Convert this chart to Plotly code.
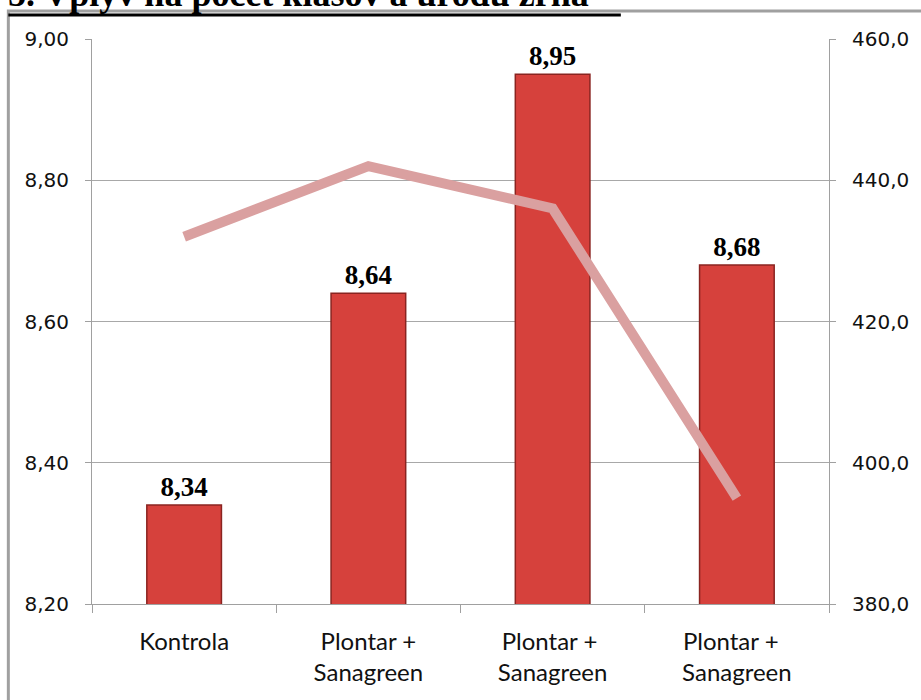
import plotly.graph_objects as go

categories = ["Kontrola", "Plontar +<br>Sanagreen", "Plontar + <br>Sanagreen", "Plontar +  <br>Sanagreen"]
bar_values = [8.34, 8.64, 8.95, 8.68]
line_values = [432.0, 442.0, 436.0, 395.0]
left_ticks = [8.20, 8.40, 8.60, 8.80, 9.00]
right_ticks = [380, 400, 420, 440, 460]
title_text = "5. Vplyv na počet klasov a úrodu zrna"

fig = go.Figure()
fig.add_trace(go.Bar(
    x=categories, y=bar_values, width=0.405,
    marker=dict(color="#d6413c", line=dict(color="#8a2420", width=1.5)),
    texttemplate="%{y:.2f}", textposition="outside", cliponaxis=False,
    textfont=dict(family="Liberation Serif", size=27, color="black", weight="bold"),
    showlegend=False,
))
fig.add_trace(go.Scatter(
    x=categories, y=line_values, yaxis="y2", mode="lines",
    line=dict(color="rgb(218,160,160)", width=10),
    showlegend=False,
))

fig.update_layout(
    width=921, height=700,
    margin=dict(l=92, r=89, t=39, b=96),
    paper_bgcolor="white", plot_bgcolor="white",
    separators=",.",
    xaxis=dict(
        tickson="boundaries", ticks="outside", ticklen=8, tickcolor="#a0a0a0",
        showline=True, linecolor="#a0a0a0", linewidth=1,
        showgrid=False,
        tickfont=dict(family="Lato", size=24, color="#111"),
        ticklabelstandoff=16,
    ),
    yaxis=dict(
        range=[8.2, 9.0], tickvals=left_ticks, tickformat=".2f",
        ticks="outside", ticklen=6, tickcolor="#a0a0a0",
        showline=True, linecolor="#a0a0a0", linewidth=1,
        showgrid=True, gridcolor="#a8a8a8", gridwidth=1,
        zeroline=False,
        tickfont=dict(family="DejaVu Sans", size=20, color="#111"),
        ticklabelstandoff=12,
    ),
    yaxis2=dict(
        range=[380, 460], tickvals=right_ticks, tickformat=".1f",
        overlaying="y", side="right",
        ticks="outside", ticklen=6, tickcolor="#a0a0a0",
        showline=True, linecolor="#a0a0a0", linewidth=1,
        showgrid=False, zeroline=False,
        tickfont=dict(family="DejaVu Sans", size=20, color="#111"),
        ticklabelstandoff=12,
    ),
    shapes=[
        dict(type="rect", xref="paper", yref="paper",
             x0=(8 - 92) / 740, x1=1.5, y0=-0.5, y1=(604 - 11) / 565,
             line=dict(color="#a0a0a0", width=3), fillcolor="rgba(0,0,0,0)", layer="above"),
        dict(type="line", xref="paper", yref="paper",
             x0=(8 - 92) / 740, x1=(623 - 92) / 740,
             y0=(604 - 15) / 565, y1=(604 - 15) / 565,
             line=dict(color="black", width=3)),
    ],
    annotations=[
        dict(text=title_text, xref="paper", yref="paper",
             x=(6 - 92) / 740, xanchor="left",
             y=(604 - 16) / 565, yanchor="bottom", showarrow=False,
             font=dict(family="Liberation Serif", size=36, color="black", weight="bold")),
    ],
)

fig.write_html("out.html", config={"displayModeBar": False},
               post_script="document.body.style.margin='0';")
